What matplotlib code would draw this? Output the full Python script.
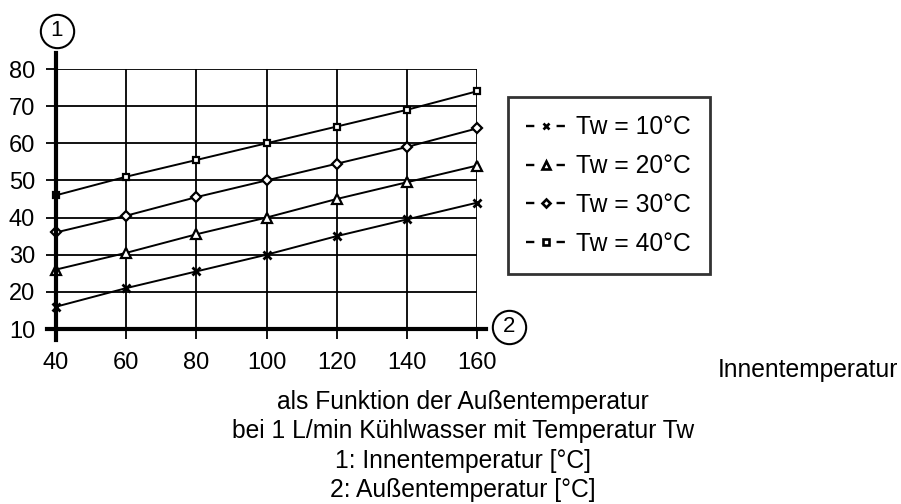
import matplotlib
matplotlib.use("Agg")
import matplotlib.pyplot as plt
from matplotlib.lines import Line2D

plt.rcParams['font.family'] = ['Liberation Sans', 'DejaVu Sans']
plt.rcParams['lines.scale_dashes'] = False

x_vals = [40, 60, 80, 100, 120, 140, 160]
tw10 = [16, 21, 25.5, 30, 35, 39.5, 44]
tw20 = [26, 30.5, 35.5, 40, 45, 49.5, 54]
tw30 = [36, 40.5, 45.5, 50, 54.5, 59, 64]
tw40 = [46, 51, 55.5, 60, 64.5, 69, 74]
labels = ["Tw = 10°C", "Tw = 20°C", "Tw = 30°C", "Tw = 40°C"]
markers = ["x", "^", "D", "s"]
xticks = [40, 60, 80, 100, 120, 140, 160]
yticks = [10, 20, 30, 40, 50, 60, 70, 80]
caption = ["als Funktion der Außentemperatur",
           "bei 1 L/min Kühlwasser mit Temperatur Tw",
           "1: Innentemperatur [°C]",
           "2: Außentemperatur [°C]"]

W, H = 901, 504
fig = plt.figure(figsize=(W/100, H/100), dpi=100)
ax = fig.add_axes([56/W, 1-329/H, 421/W, 260/H])
ax.set_xlim(40, 160)
ax.set_ylim(10, 80)
for s in ax.spines.values():
    s.set_visible(False)

ax.set_xticks(xticks)
ax.set_yticks(yticks)
ax.tick_params(axis='both', direction='out', length=7.5, width=1.3, color='black',
               labelsize=17)
ax.tick_params(axis='y', pad=7.5)
ax.tick_params(axis='x', pad=9)
ax.grid(True, color='black', linewidth=1.3)

plot_sizes = {"x": 6, "^": 6.5, "D": 5.5, "s": 5}
leg_sizes = {"x": 5, "^": 5.5, "D": 4.5, "s": 4.5}
handles = []
for ys, m, lab in zip([tw10, tw20, tw30, tw40], markers, labels):
    ax.plot(x_vals, ys, color='black', linewidth=1.4, marker=m, markersize=plot_sizes[m],
            markerfacecolor='white' if m != 'x' else 'black', markeredgecolor='black',
            markeredgewidth=1.6 if m != 'x' else 2.0, clip_on=False, zorder=5)
    handles.append(Line2D([0], [0], color='black', linewidth=1.7, dashes=(6, 16),
                          marker=m, markersize=leg_sizes[m],
                          markerfacecolor='white', markeredgecolor='black',
                          markeredgewidth=1.9))

# thick axes
ax.add_line(Line2D([0, 0], [-0.042, 1.062], transform=ax.transAxes, color='black',
                   linewidth=3, clip_on=False, zorder=6))
ax.add_line(Line2D([-0.0214, 1.0214], [0, 0], transform=ax.transAxes, color='black',
                   linewidth=3, clip_on=False, zorder=6))

# circled axis ids
for (cx, cy, t) in [(56.5, 31, "1"), (509, 327, "2")]:
    fig.add_artist(Line2D([cx/W], [1-cy/H], transform=fig.transFigure, marker='o',
                          markersize=24, markerfacecolor='white', markeredgecolor='black',
                          markeredgewidth=1.5, linestyle='none'))
    fig.text(cx/W, 1-cy/H, t, ha='center', va='center', fontsize=16)

leg = fig.legend(handles, labels, loc='upper left',
                 bbox_to_anchor=(508/W, 1-97/H), borderaxespad=0,
                 fontsize=17.7, frameon=True, fancybox=False, edgecolor='black',
                 handlelength=1.58, handletextpad=0.45, labelspacing=0.6,
                 borderpad=0.75)
leg.get_frame().set_linewidth(2)

fig.text(718/W, 1-377/H, "Innentemperatur", ha='left', va='baseline', fontsize=17.7)
for i, line in enumerate(caption):
    fig.text(463/W, 1-(409 + i*29.3)/H, line, ha='center', va='baseline', fontsize=17.7)

fig.savefig("out.png", dpi=100, facecolor='white')
